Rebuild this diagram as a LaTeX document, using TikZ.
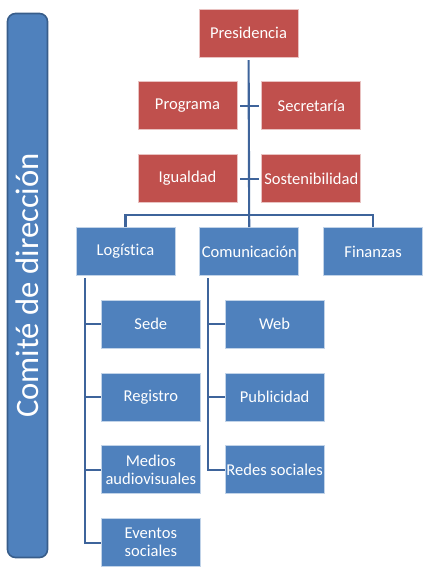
\documentclass[tikz,border=0pt]{standalone}
\usepackage{fontspec}
\setmainfont{Carlito}[Ligatures=NoCommon]
\usetikzlibrary{positioning}

\definecolor{cargo}{RGB}{192,80,77}
\definecolor{area}{RGB}{79,129,189}
\definecolor{areaborde}{RGB}{56,93,138}
\definecolor{enlace}{RGB}{62,100,155}

\begin{document}
\begin{tikzpicture}[
            x = 0.75pt, % one pixel of the picture
            y = -0.75pt, % y grows downwards
            node distance = 18pt, % gap between boxes
            font = \fontsize{12.4}{13.5}\selectfont
        ]

        \tikzstyle{box}=[
            rectangle,
            text = white,
            align = center,
            minimum width = 74.25pt,
            minimum height = 36pt,
            inner sep = 1pt,
            line width = 0.6pt
        ]
        \tikzstyle{redbox}=[box, fill = cargo, draw = cargo!35!white]
        \tikzstyle{bluebox}=[box, fill = area, draw = area!35!white]
        \tikzstyle{link}=[draw = enlace, line width = 1.6pt]

        \useasboundingbox (0,0) rectangle (434,576);

        % side band
        \node[rectangle, rounded corners = 6pt, fill = area, draw = areaborde,
              line width = 1.2pt, rotate = 90, minimum width = 408pt,
              minimum height = 30pt, text = white,
              font = \fontsize{24.5}{28}\selectfont] (comite) at (27.5,285.5) {Comité de dirección};

        \node[redbox] (pres) at (248.5,33) {Presidencia};
        \node[redbox] (prog) [below=of pres, xshift=-45.75pt] {Programa};
        \node[redbox] (secr) [right=of prog] {Secretaría};
        \node[redbox] (igual) [below=of prog] {Igualdad};
        \node[redbox] (sost) [below=of secr] {Sostenibilidad};

        \node[bluebox] (logis) [below=of igual, xshift=-46.5pt] {Logística};
        \node[bluebox] (comun) [right=of logis] {Comunicación};
        \node[bluebox] (finan) [right=of comun] {Finanzas};

        \node[bluebox] (sede) [below=of logis, xshift=19pt] {Sede};
        \node[bluebox] (regis) [below=of sede] {Registro};
        \node[bluebox] (medios) [below=of regis] {Medios\\audiovisuales};
        \node[bluebox] (eventos) [below=of medios] {Eventos\\sociales};

        \node[bluebox] (web) [below=of comun, xshift=19pt] {Web};
        \node[bluebox] (publi) [below=of web] {Publicidad};
        \node[bluebox] (redes) [below=of publi] {Redes sociales};

        \draw[link, shorten <= 2pt] (pres) -- (comun);
        \draw[link, shorten <= 2pt, shorten >= 2pt] (prog) -- (secr);
        \draw[link, shorten <= 2pt, shorten >= 2pt] (igual) -- (sost);
        \draw[link] (logis.north) |- ([yshift=9pt]comun.north) -| (finan.north);

        \draw[link, shorten <= 2pt] ([xshift=6.75pt]logis.south west) |- (sede.west);
        \draw[link, shorten <= 2pt] ([xshift=6.75pt]logis.south west) |- (regis.west);
        \draw[link, shorten <= 2pt] ([xshift=6.75pt]logis.south west) |- (medios.west);
        \draw[link, shorten <= 2pt] ([xshift=6.75pt]logis.south west) |- (eventos.west);
        \draw[link, shorten <= 2pt] ([xshift=6.75pt]comun.south west) |- (web.west);
        \draw[link, shorten <= 2pt] ([xshift=6.75pt]comun.south west) |- (publi.west);
        \draw[link, shorten <= 2pt] ([xshift=6.75pt]comun.south west) |- (redes.west);

  \end{tikzpicture}
\end{document}
